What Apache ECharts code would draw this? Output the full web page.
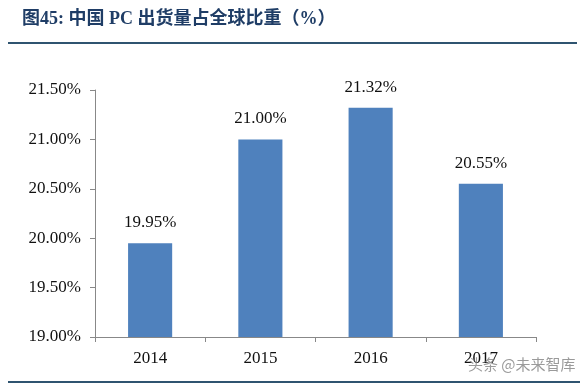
<!DOCTYPE html>
<html><head><meta charset="utf-8">
<script src="https://cdn.jsdelivr.net/npm/echarts@6/dist/echarts.min.js"></script>
<style>html,body{margin:0;padding:0;background:#fff;}#c{width:583px;height:386px;}</style>
</head><body><div id="c"></div>
<script>
const titleText = '图45: 中国 PC 出货量占全球比重（%）';
const categories = ['2014', '2015', '2016', '2017'];
const shares = [19.95, 21.00, 21.32, 20.55];
const yMin = 19, yMax = 21.5, yStep = 0.5;
const watermark = '头条 @未来智库';

const chart = echarts.init(document.getElementById('c'));
const serif = "'Liberation Serif','Times New Roman','Noto Sans CJK SC',serif";
chart.setOption({
  animation: false,
  backgroundColor: '#fff',
  grid: {left: 95, right: 47, top: 90, bottom: 49, containLabel: false},
  graphic: [
    {type: 'text', left: 22, top: 10, style: {text: titleText, fill: '#1f3d66', font: "bold 18px 'Liberation Serif','Noto Sans CJK SC',serif"}},
    {type: 'rect', shape: {x: 8, y: 42, width: 569, height: 2}, style: {fill: '#2f5470'}},
    {type: 'rect', shape: {x: 8, y: 381, width: 572, height: 2}, style: {fill: '#2f5470'}},
    {type: 'text', left: 468, top: 357, z: 100, style: {text: watermark, fill: 'rgba(120,120,120,0.75)', font: "15px 'Noto Sans CJK SC',sans-serif"}}
  ],
  xAxis: {
    type: 'category', data: categories, boundaryGap: true,
    axisLine: {lineStyle: {color: '#888', width: 1}},
    axisTick: {show: true, alignWithLabel: false, length: 5, lineStyle: {color: '#888'}},
    axisLabel: {color: '#111', fontFamily: serif, fontSize: 17, margin: 13}
  },
  yAxis: {
    type: 'value', min: yMin, max: yMax, interval: yStep,
    axisLine: {show: true, lineStyle: {color: '#888', width: 1}},
    axisTick: {show: true, length: 5, lineStyle: {color: '#888'}},
    splitLine: {show: false},
    axisLabel: {color: '#111', fontFamily: serif, fontSize: 17, margin: 14,
      formatter: v => v.toFixed(2) + '%'}
  },
  series: [{
    type: 'bar', data: shares, barWidth: '40%',
    itemStyle: {color: '#4f81bd'},
    label: {show: true, position: 'top', distance: 12, color: '#111', fontFamily: serif, fontSize: 17,
      formatter: p => p.value.toFixed(2) + '%'}
  }]
});
</script></body></html>
